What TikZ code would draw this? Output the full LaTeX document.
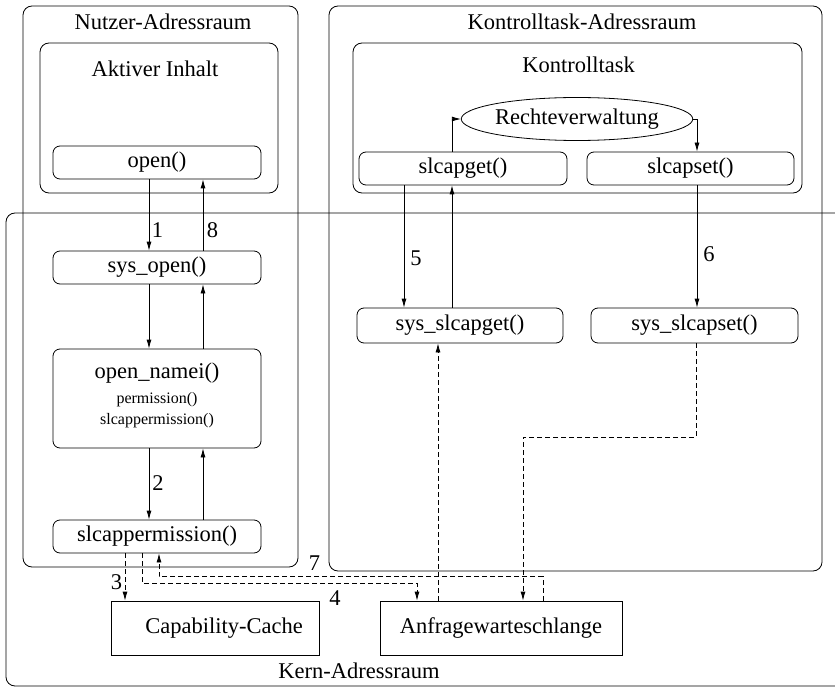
\documentclass[tikz,border=0pt]{standalone}
\usepackage{fontspec}
\setmainfont{Liberation Serif}
\usetikzlibrary{arrows.meta,shapes.geometric}

\begin{document}
\begin{tikzpicture}[x=1pt,y=-1pt,
  line width=0.8pt,
  every node/.style={font=\fontsize{22.5}{27}\selectfont},
  region/.style={draw, rounded corners=9pt, inner sep=0pt},
  fnbox/.style={draw, rounded corners=7pt, inner sep=0pt, minimum width=208pt, minimum height=33pt},
  store/.style={draw, inner sep=0pt, minimum height=54pt},
  title/.style={anchor=base, inner sep=0pt},
  small/.style={font=\fontsize{16}{18}\selectfont},
  num/.style={inner sep=0pt},
  arr/.style={-{Latex[length=9pt,width=5pt]}},
  darr/.style={arr, dash pattern=on 5pt off 3pt}]

\useasboundingbox (0,0) rectangle (835,687);

% kernel address space, running off the right edge
\begin{scope}
  \clip (0,0) rectangle (835,687);
  \node[region, minimum width=839pt, minimum height=473pt] (kern) at (425.5,449.5) {};
\end{scope}
\node[title] (kerntitle) at (359,678) {Kern-Adressraum};

% user address space
\node[region, minimum width=275pt, minimum height=561pt] (nutzer) at (160.5,286.5) {};
\node[title] (nutzertitle) at (163,29.5) {Nutzer-Adressraum};
\node[region, minimum width=238pt, minimum height=150pt] (aktiv) at (159,118) {};
\node[title] (aktivtitle) at (155,77) {Aktiver Inhalt};
\node[fnbox] (open) at (157,162.5) {open()};

% control task address space
\node[region, minimum width=493pt, minimum height=565pt] (kadr) at (575.5,288.5) {};
\node[title] (kadrtitle) at (582,29.5) {Kontrolltask-Adressraum};
\node[region, minimum width=449pt, minimum height=150pt] (ktask) at (577.5,118) {};
\node[title] (ktasktitle) at (578.5,73) {Kontrolltask};
\node[draw, ellipse, inner sep=0pt, minimum width=199pt, minimum height=43pt] (recht) at (577,119) {Rechteverwaltung};
\node[fnbox] (slcapget) at (463,168.5) {slcapget()};
\node[fnbox, minimum width=207pt] (slcapset) at (690.5,168.5) {slcapset()};

% kernel functions
\node[fnbox] (sysopen) at (157,267.5) {sys\_open()};
\node[fnbox, minimum height=99pt] (namei) at (157,398.5) {};
\node (nameititle) at (157,373) {open\_namei()};
\node[small, align=center, inner sep=0pt] (nameicalls) at (157,410) {permission()\\[3pt]slcappermission()};
\node[fnbox] (slcapperm) at (157,536.5) {slcappermission()};
\node[fnbox, minimum width=206pt, minimum height=35pt] (sysget) at (460,325.5) {sys\_slcapget()};
\node[fnbox, minimum width=207pt, minimum height=35pt] (sysset) at (694.5,325.5) {sys\_slcapset()};

% kernel data structures
\node[store, minimum width=208pt] (capcache) at (215,628) {\hspace*{18pt}Capability-Cache};
\node[store, minimum width=242pt] (anfrage) at (501,628) {Anfragewarteschlange};

% call path of open()
\draw[arr] (open.south -| 149,0) -- (sysopen.north -| 149,0);
\draw[arr] (sysopen.north -| 203,0) -- (open.south -| 203,0);
\draw[arr] (sysopen.south -| 149,0) -- (namei.north -| 149,0);
\draw[arr] (namei.north -| 203,0) -- (sysopen.south -| 203,0);
\draw[arr] (namei.south -| 149,0) -- (slcapperm.north -| 149,0);
\draw[arr] (slcapperm.north -| 203,0) -- (namei.south -| 203,0);
\node[num] (n1) at (157.5,230) {1};
\node[num] (n8) at (212.5,230) {8};
\node[num] (n2) at (158,483) {2};

% control task calls
\draw[arr] (slcapget.south -| 404,0) -- (sysget.north -| 404,0);
\draw[arr] (sysget.north -| 452,0) -- (slcapget.south -| 452,0);
\draw[arr] (slcapget.north -| 452,0) |- (recht.west);
\draw[arr] (recht.east) -| (slcapset.north -| 697,0);
\draw[arr] (slcapset.south -| 697,0) -- (sysset.north -| 697,0);
\node[num] (n5) at (416,258) {5};
\node[num] (n6) at (709,254) {6};

% data flow through cache and request queue
\draw[darr] (slcapperm.south -| 125,0) -- (capcache.north -| 125,0);
\draw[darr] (slcapperm.south -| 142,0) -- ++(0,30) -| (anfrage.north -| 417,0);
\draw[darr] (anfrage.north -| 543,0) -- ++(0,-24) -| (slcapperm.south -| 159,0);
\draw[darr] (anfrage.north -| 438,0) -- (sysget.south -| 438,0);
\draw[darr] (sysset.south -| 696,0) -- ++(0,94) -| (anfrage.north -| 523,0);
\node[num] (n3) at (116.5,582) {3};
\node[num] (n4) at (335,598) {4};
\node[num] (n7) at (314.5,563) {7};

\end{tikzpicture}
\end{document}
